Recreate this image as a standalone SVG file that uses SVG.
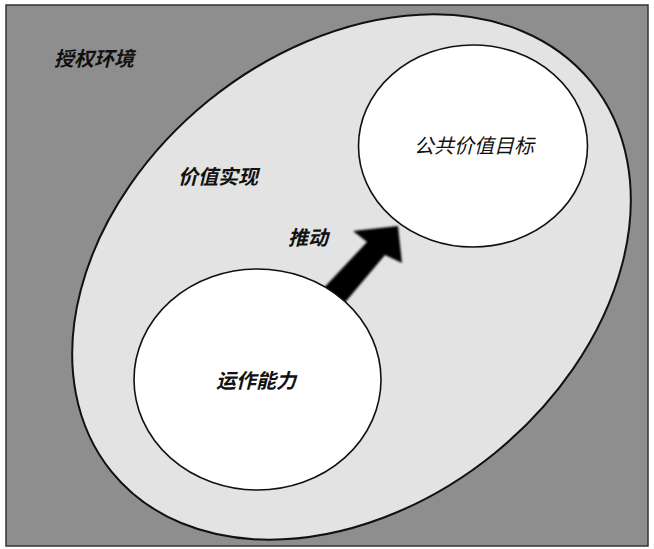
<svg xmlns="http://www.w3.org/2000/svg" width="654" height="549" viewBox="0 0 654 549">
<defs>
<filter id="soft" x="-20%" y="-20%" width="140%" height="140%"><feGaussianBlur stdDeviation="0.9"/></filter>
</defs>
<style>
.lbl{font-family:"Liberation Sans","Noto Sans CJK SC",sans-serif;font-size:20px;font-style:italic;fill:#111;text-anchor:middle}
.b{font-weight:bold}
.node{fill:#fff;stroke:#111;stroke-width:1.6}
</style>
<rect x="0" y="0" width="654" height="549" fill="#fff"/>
<g id="env">
<rect x="6" y="5" width="642" height="541" fill="#8e8e8e" stroke="#333" stroke-width="1.5"/>
<text class="lbl b" x="94" y="66">授权环境</text>
</g>
<g id="realization">
<ellipse cx="351.5" cy="277" rx="309" ry="227" transform="rotate(-39.1 351.5 277)" fill="#e3e3e3" stroke="#111" stroke-width="2"/>
<text class="lbl b" x="218" y="184">价值实现</text>
</g>
<g id="connectors">
<polygon points="320,292 367,242 353,231 398,226 402,263 385,255 342,306" fill="#000" filter="url(#soft)"/>
<text class="lbl b" x="308" y="245">推动</text>
</g>
<g id="goal">
<ellipse class="node" cx="473" cy="146" rx="114.5" ry="101"/>
<text class="lbl" x="474" y="153" style="font-weight:normal">公共价值目标</text>
</g>
<g id="capability">
<ellipse class="node" cx="257.5" cy="379.5" rx="123.5" ry="110.5"/>
<text class="lbl b" x="256" y="388">运作能力</text>
</g>
</svg>
